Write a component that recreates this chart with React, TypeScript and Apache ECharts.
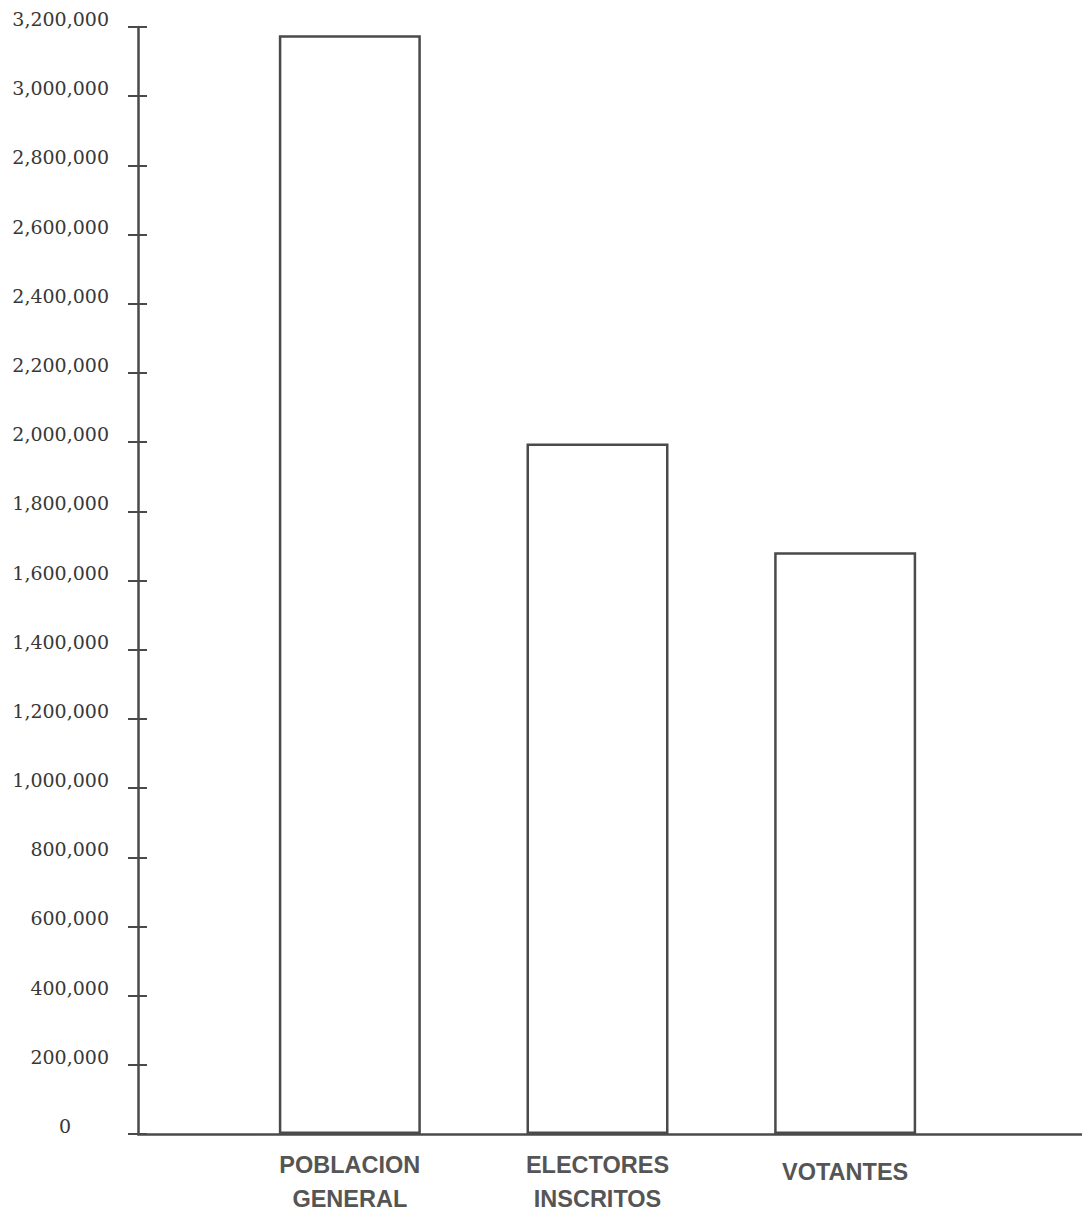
import React, { useEffect, useRef } from "react";
import * as echarts from "echarts";

const categories = ["POBLACION\nGENERAL", "ELECTORES\nINSCRITOS", "VOTANTES"];
const values = [3176000, 1996000, 1682000];
const yMin = 0;
const yMax = 3200000;
const yStep = 200000;

const LINE = "#4a4a4a";

export default function App() {
  const ref = useRef<HTMLDivElement>(null);
  useEffect(() => {
    if (!ref.current) return;
    const chart = echarts.init(ref.current, undefined, { renderer: "svg" });
    const top = 27;
    const bottom = 1212 - 1134;
    const yLabelFmt = (v: number) =>
      v === 0 ? "{z|0}" : "{n|" + v.toLocaleString("en-US") + "}";
    const yRich = {
      n: { fontFamily: "DejaVu Serif", fontSize: 19, color: "#383838", padding: [0, 0, 16, 0] },
      z: { fontFamily: "DejaVu Serif", fontSize: 19, color: "#383838", padding: [0, 38, 16, 0] },
    };
    const catFont = {
      fontFamily: "Liberation Sans",
      fontWeight: "bold",
      fontSize: 23.5,
      lineHeight: 34,
      color: "#555555",
    };
    chart.setOption({
      animation: false,
      backgroundColor: "#ffffff",
      grid: [
        { left: 138, right: 0, top, bottom, outerBoundsMode: "none", containLabel: false },
        { left: 226, right: 113, top, bottom, outerBoundsMode: "none", containLabel: false },
      ],
      xAxis: [
        {
          gridIndex: 0,
          type: "value",
          min: 0,
          max: 1,
          axisLine: { show: true, lineStyle: { color: LINE, width: 2.5 } },
          axisTick: { show: false },
          axisLabel: { show: false },
          splitLine: { show: false },
        },
        {
          gridIndex: 1,
          type: "category",
          position: "bottom",
          data: categories,
          axisLine: { show: false },
          axisTick: { show: false },
          axisLabel: {
            margin: 14,
            ...catFont,
            formatter: (v: string) => (v.indexOf("\n") >= 0 ? v : "{s|" + v + "}"),
            rich: {
              s: { ...catFont, padding: [14, 0, 0, 0] },
            },
          },
          splitLine: { show: false },
        },
      ],
      yAxis: [
        {
          gridIndex: 0,
          type: "value",
          position: "left",
          min: yMin,
          max: yMax,
          interval: yStep,
          axisLine: { show: true, lineStyle: { color: LINE, width: 2.5 } },
          axisTick: { show: true, length: 10, lineStyle: { color: LINE, width: 2 } },
          axisLabel: { margin: 29, formatter: yLabelFmt, rich: yRich },
          splitLine: { show: false },
        },
        {
          gridIndex: 1,
          type: "value",
          position: "left",
          min: yMin,
          max: yMax,
          interval: yStep,
          show: false,
        },
        {
          gridIndex: 0,
          type: "value",
          position: "left",
          offset: 0,
          min: yMin,
          max: yMax,
          interval: yStep,
          axisLine: { show: false },
          axisTick: { show: true, inside: true, length: 9, lineStyle: { color: LINE, width: 2 } },
          axisLabel: { show: false },
          splitLine: { show: false },
        },
      ],
      series: [
        {
          type: "bar",
          xAxisIndex: 1,
          yAxisIndex: 1,
          data: values,
          barWidth: 142,
          itemStyle: { color: "#ffffff", borderColor: LINE, borderWidth: 2.5 },
        },
      ],
    });
    return () => chart.dispose();
  }, []);
  return (
    <div
      ref={ref}
      style={{ position: "absolute", left: 0, top: 0, width: 1082, height: 1212 }}
    />
  );
}
